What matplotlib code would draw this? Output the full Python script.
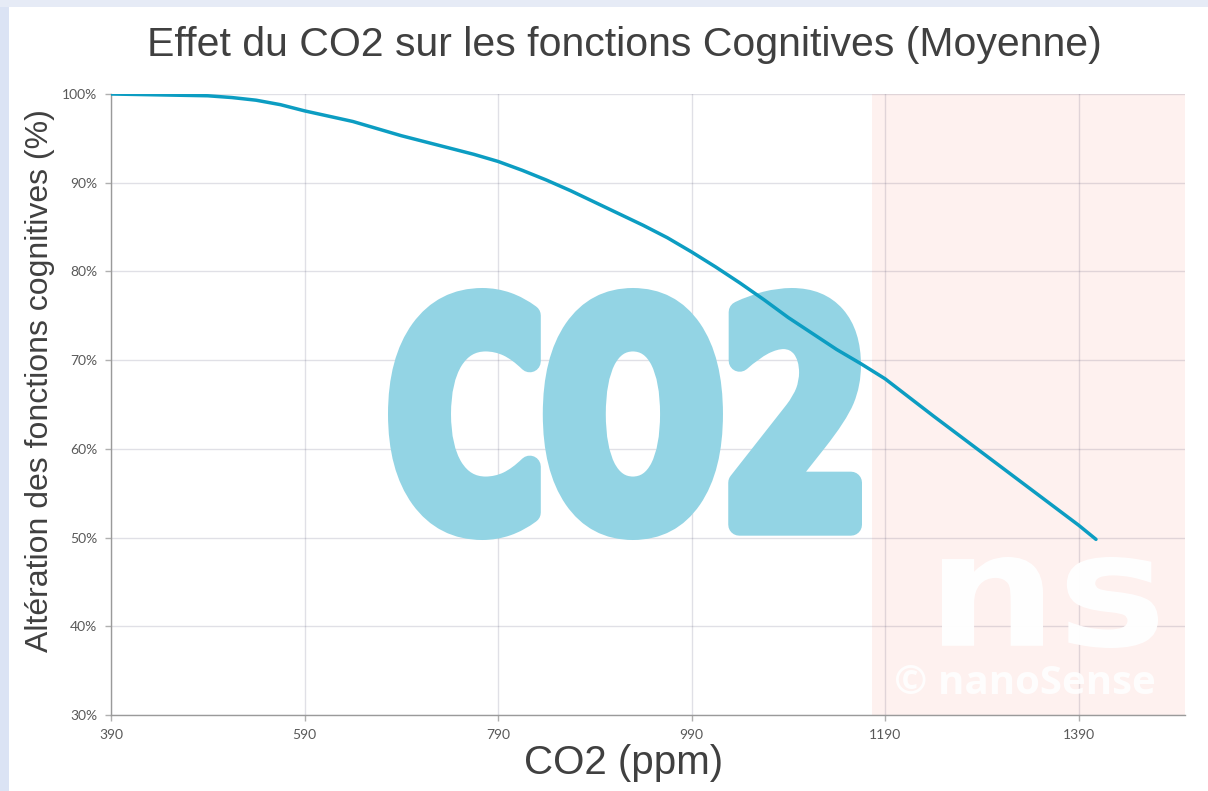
import numpy as np
import matplotlib
matplotlib.use("Agg")
import matplotlib.pyplot as plt
from matplotlib.textpath import TextPath
from matplotlib.patches import PathPatch, Rectangle
from matplotlib.font_manager import FontProperties, findfont
from matplotlib.transforms import Affine2D
from matplotlib.ticker import FuncFormatter

# ---- data ----
co2_ppm = [390, 440, 490, 515, 540, 565, 590, 615, 640, 665, 690, 715, 740,
           765, 790, 815, 840, 865, 890, 915, 940, 965, 990, 1015, 1040, 1065,
           1090, 1115, 1140, 1165, 1190, 1240, 1290, 1340, 1390, 1408]
cognitive_pct = [100.0, 99.9, 99.8, 99.6, 99.3, 98.8, 98.1, 97.5, 96.9, 96.1,
                 95.3, 94.6, 93.9, 93.2, 92.4, 91.4, 90.3, 89.1, 87.8, 86.5,
                 85.2, 83.8, 82.2, 80.5, 78.7, 76.8, 74.8, 73.0, 71.2, 69.6,
                 67.9, 63.7, 59.6, 55.5, 51.4, 49.8]
x_ticks = [390, 590, 790, 990, 1190, 1390]
y_ticks = [30, 40, 50, 60, 70, 80, 90, 100]
danger_zone = [1176, 1500]

title = "Effet du CO2 sur les fonctions Cognitives (Moyenne)"
xlabel = "CO2 (ppm)"
ylabel = "Altération des fonctions cognitives (%)"

W, H = 1208, 791
fig = plt.figure(figsize=(W / 100, H / 100), dpi=100, facecolor="white")

# background frame strips
fig.patches.append(Rectangle((0, 0), 9 / W, 1, transform=fig.transFigure,
                             facecolor="#dbe3f4", edgecolor="none", zorder=-5))
fig.patches.append(Rectangle((0, 1 - 7 / H), 1, 7 / H, transform=fig.transFigure,
                             facecolor="#e6ebf6", edgecolor="none", zorder=-5))

AXW, AXH = 1074, 621
left, right = 111 / W, 1185 / W
bottom, top = (H - 715) / H, (H - 94) / H
ax = fig.add_axes([left, bottom, right - left, top - bottom])
ax.set_facecolor("white")

ax.set_xlim(390, 1500)
ax.set_ylim(30, 100)

# danger zone
ax.axvspan(danger_zone[0], danger_zone[1], color="#fef1ef", zorder=0, lw=0)

# grid (semi-transparent so it darkens over the watermark)
ax.set_xticks(x_ticks)
ax.set_yticks(y_ticks)
ax.grid(True, color="#2a2a50", alpha=0.14, linewidth=1.0, zorder=2.5)

for s in ["top", "right"]:
    ax.spines[s].set_visible(False)
for s in ["left", "bottom"]:
    ax.spines[s].set_color("#9a9a9a")
    ax.spines[s].set_linewidth(1.0)
    ax.spines[s].set_zorder(4)
ax.tick_params(axis="both", length=4, width=1, color="#b0b0b0",
               labelsize=10, labelcolor="#595959", pad=6)
for lab in ax.get_xticklabels() + ax.get_yticklabels():
    lab.set_fontfamily("Lato")
ax.yaxis.set_major_formatter(FuncFormatter(lambda v, p: f"{int(v)}%"))

# watermark "CO2" (heavy condensed look: narrow bold font + thick outline)
try:
    fp = FontProperties(family="Liberation Sans Narrow", weight="bold")
    findfont(fp, fallback_to_default=False)
except Exception:
    fp = FontProperties(family="DejaVu Sans", weight="bold")
tp = TextPath((0, 0), "CO2", prop=fp, size=1)
ext = tp.get_extents()
L = 22  # outline width in pixels
x0, x1 = (388 - 111 + L / 2) / AXW, (862 - 111 - L / 2) / AXW
y0, y1 = (715 - 540 + L / 2) / AXH, (715 - 288 - L / 2) / AXH
tr = Affine2D().translate(-ext.x0, -ext.y0).scale((x1 - x0) / ext.width,
                                                  (y1 - y0) / ext.height).translate(x0, y0)
ax.add_patch(PathPatch(tr.transform_path(tp), transform=ax.transAxes,
                       facecolor="#93d4e4", edgecolor="#93d4e4",
                       linewidth=L * 0.72, joinstyle="round", zorder=2))

# watermark "ns"
fp2 = FontProperties(family="DejaVu Sans", weight="bold")
tp2 = TextPath((0, 0), "ns", prop=fp2, size=1)
e2 = tp2.get_extents()
nx0, nx1 = (942 - 111) / AXW, (1158 - 111) / AXW
ny0, ny1 = (715 - 648) / AXH, (715 - 557) / AXH
tr2 = Affine2D().translate(-e2.x0, -e2.y0).scale((nx1 - nx0) / e2.width,
                                                 (ny1 - ny0) / e2.height).translate(nx0, ny0)
ax.add_patch(PathPatch(tr2.transform_path(tp2), transform=ax.transAxes,
                       facecolor="white", edgecolor="none", alpha=0.97, zorder=3))
ax.text((1025 - 111) / AXW, (715 - 683) / AXH, "© nanoSense", transform=ax.transAxes,
        ha="center", va="center", fontsize=29, fontweight="bold", family="Open Sans",
        color="white", alpha=0.88, zorder=3)

# curve
ax.plot(co2_ppm, cognitive_pct, color="#0c9dc2", linewidth=2.5,
        solid_capstyle="round", solid_joinstyle="round", zorder=5)

fig.text(624 / W, 1 - 45 / H, title, ha="center", va="center",
         fontsize=29.5, color="#404040", family="Liberation Sans")
fig.text(624 / W, 1 - 763 / H, xlabel, ha="center", va="center",
         fontsize=29, color="#404040", family="Liberation Sans")
fig.text(40 / W, 1 - 381 / H, ylabel, ha="center", va="center", rotation=90,
         fontsize=23, color="#404040", family="Liberation Sans")

fig.savefig("out.png", dpi=100, facecolor=fig.get_facecolor())
